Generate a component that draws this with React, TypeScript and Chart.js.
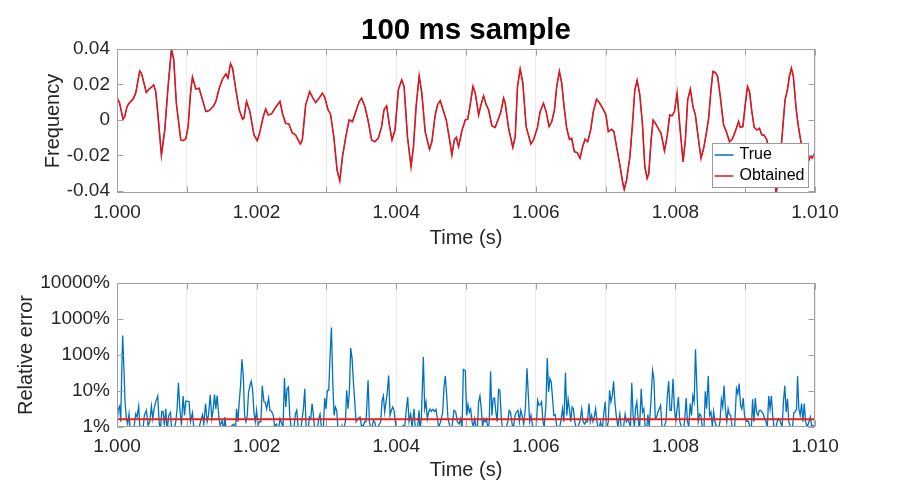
import React, { useEffect, useRef } from 'react';
import Chart from 'chart.js/auto';

const FONT = "'Liberation Sans', Arial, Helvetica, sans-serif";
const TEXT = '#262626';
const AXIS = '#a0a0a0';
const GRID = '#ebebeb';
const BLUE = '#0072BD';
const RED = '#E0161C';

// x axis: milliseconds after t = 1.000 s
const xTickMs = [0, 1, 2, 3, 4, 5, 6, 7, 8, 9, 10];
const freqTicks = [-0.04, -0.02, 0, 0.02, 0.04];
const freqLimits = [-0.0412, 0.04];
const errTicks = [1, 10, 100, 1000, 10000];

// top plot (True and Obtained overlap)
const freqTimeMs = [
  0, 0.038, 0.086, 0.11, 0.144, 0.18, 0.23, 0.268, 0.325, 0.35, 0.42, 0.46, 0.507, 0.526, 0.555, 0.589,
  0.636, 0.684, 0.732, 0.78, 0.813, 0.85, 0.914, 0.947, 0.986, 1.019, 1.053, 1.081, 1.129, 1.177, 1.225,
  1.273, 1.32, 1.378, 1.416, 1.464, 1.512, 1.56, 1.589, 1.627, 1.656, 1.703, 1.751, 1.799, 1.818, 1.856,
  1.904, 1.962, 2.01, 2.048, 2.096, 2.13, 2.167, 2.215, 2.263, 2.335, 2.375, 2.415, 2.463, 2.51, 2.559,
  2.626, 2.655, 2.703, 2.76, 2.808, 2.847, 2.904, 2.942, 2.976, 3.024, 3.058, 3.106, 3.153, 3.192, 3.23,
  3.278, 3.326, 3.374, 3.422, 3.47, 3.504, 3.552, 3.6, 3.647, 3.695, 3.743, 3.791, 3.825, 3.863, 3.902,
  3.94, 3.983, 4.031, 4.079, 4.113, 4.161, 4.213, 4.247, 4.285, 4.329, 4.367, 4.415, 4.477, 4.511, 4.559,
  4.592, 4.631, 4.669, 4.717, 4.765, 4.798, 4.832, 4.861, 4.894, 4.942, 4.99, 5.024, 5.052, 5.1, 5.133,
  5.181, 5.214, 5.252, 5.29, 5.324, 5.371, 5.419, 5.467, 5.5, 5.538, 5.562, 5.61, 5.671, 5.705, 5.738,
  5.776, 5.814, 5.862, 5.929, 5.967, 6.024, 6.062, 6.11, 6.148, 6.19, 6.229, 6.267, 6.3, 6.338, 6.371,
  6.405, 6.443, 6.481, 6.514, 6.552, 6.595, 6.633, 6.671, 6.705, 6.743, 6.786, 6.824, 6.871, 6.91, 6.957,
  7.005, 7.038, 7.086, 7.119, 7.157, 7.205, 7.243, 7.267, 7.3, 7.348, 7.386, 7.419, 7.452, 7.49, 7.527,
  7.562, 7.595, 7.619, 7.652, 7.681, 7.714, 7.762, 7.795, 7.843, 7.881, 7.919, 7.952, 7.986, 8.024, 8.062,
  8.11, 8.143, 8.176, 8.214, 8.252, 8.286, 8.319, 8.367, 8.405, 8.443, 8.476, 8.51, 8.538, 8.571, 8.605,
  8.643, 8.69, 8.729, 8.776, 8.814, 8.857, 8.905, 8.929, 8.967, 9.0, 9.033, 9.062, 9.095, 9.129, 9.167,
  9.205, 9.238, 9.271, 9.31, 9.357, 9.405, 9.443, 9.476, 9.524, 9.571, 9.605, 9.633, 9.662, 9.69, 9.729,
  9.762, 9.81, 9.86, 9.9, 9.935, 9.96, 10.0,
];
const freqValues = [
  0.0128, 0.0094, 0.0004, 0.0019, 0.0075, 0.0098, 0.0117, 0.0151, 0.0276, 0.0264, 0.0155, 0.0174, 0.0189, 0.0198, 0.016, 0.0019,
  -0.0198, -0.0057, 0.0189, 0.04, 0.034, 0.0094, -0.0113, -0.0117, -0.0106, -0.0038, 0.0151, 0.0242, 0.0174, 0.0179, 0.0113,
  0.0047, 0.0053, 0.0075, 0.0104, 0.0179, 0.023, 0.026, 0.0236, 0.0317, 0.0292, 0.017, 0.0057, 0.0004, 0.0009, 0.0104,
  0.0047, -0.0085, -0.0117, -0.0066, 0.0019, 0.0062, 0.0028, 0.0034, 0.0066, 0.0104, 0.003, -0.0019, -0.0023, -0.0072, -0.0085,
  -0.0136, -0.0113, 0.0085, 0.016, 0.0123, 0.0098, 0.0128, 0.0151, 0.0128, 0.0057, 0.0034, -0.0094, -0.0283, -0.0343, -0.0208,
  -0.0094, 0, -0.0009, 0.0047, 0.0104, 0.0123, 0.0075, -0.0009, -0.0113, -0.0123, -0.0104, -0.0038, 0.0057, 0.0079, -0.0028,
  -0.0113, -0.0057, 0.017, 0.0226, 0.0189, -0.0094, -0.0264, -0.0151, 0.0075, 0.0249, 0.0151, -0.0066, -0.0166, -0.0123, 0.0028,
  0.0085, 0.0109, 0.006, 0, -0.0113, -0.0198, -0.0113, -0.0098, -0.0151, -0.006, 0, 0.0004, 0.0065, 0.0189, 0.0151,
  0.0028, 0.0085, 0.0136, 0.0085, 0.0057, -0.0034, -0.0042, 0.0009, 0.0047, 0.0123, 0.0094, -0.0047, -0.0155, -0.0094, 0.0189,
  0.0287, 0.0208, -0.0038, -0.0136, -0.0113, -0.0042, 0.0047, 0.0094, 0.0047, -0.0038, -0.0009, 0.0057, 0.0189, 0.0274, 0.0208,
  0.0075, -0.0047, -0.0109, -0.0104, -0.0179, -0.0185, -0.0217, -0.0151, -0.0109, -0.0123, -0.0057, 0.0047, 0.0117, 0.0098, 0.0066,
  0.0028, -0.0066, -0.0053, -0.0066, -0.0151, -0.0255, -0.0349, -0.0392, -0.034, -0.0208, -0.0019, 0.017, 0.0223, 0.0142, -0.002,
  -0.0264, -0.033, -0.0302, -0.0113, 0, -0.0019, -0.0053, -0.0075, -0.0174, -0.0094, 0.0028, 0.0023, 0.0047, 0.0151, -0.0028,
  -0.0236, -0.0113, 0.0113, 0.0174, 0.0075, 0.0028, -0.0075, -0.0217, -0.016, -0.0075, 0.0009, 0.017, 0.0274, 0.0268, 0.0245,
  0.0132, -0.0028, -0.0066, -0.0123, -0.0109, -0.0066, -0.0009, -0.0042, -0.0038, 0.0085, 0.0189, 0.016, 0.0047, -0.0042, -0.0057,
  -0.0047, -0.0085, -0.0085, -0.0113, -0.0189, -0.0274, -0.0412, -0.034, -0.0113, 0.0113, 0.017, 0.0245, 0.0292, 0.0245, 0.0066,
  -0.0038, -0.015, -0.022, -0.024, -0.0205, -0.0215, -0.0185,
];

// bottom plot: relative error (%)
const errTimeMs = [
  0, 0.019, 0.038, 0.053, 0.067, 0.081, 0.096, 0.115, 0.134, 0.153, 0.172, 0.191, 0.22, 0.249, 0.268, 0.287, 0.311, 0.33, 0.364,
  0.392, 0.421, 0.445, 0.469, 0.493, 0.512, 0.531, 0.555, 0.584, 0.603, 0.622, 0.641, 0.66, 0.679, 0.699, 0.718, 0.742, 0.766,
  0.785, 0.813, 0.842, 0.861, 0.88, 0.9, 0.923, 0.947, 0.967, 0.986, 1.005, 1.033, 1.053, 1.081, 1.1, 1.129, 1.167, 1.196, 1.225,
  1.244, 1.268, 1.292, 1.311, 1.335, 1.359, 1.378, 1.397, 1.416, 1.435, 1.459, 1.478, 1.507, 1.531, 1.545, 1.569, 1.617, 1.646,
  1.675, 1.694, 1.713, 1.732, 1.751, 1.77, 1.79, 1.809, 1.828, 1.847, 1.866, 1.885, 1.904, 1.923, 1.943, 1.962, 1.981, 2.0, 2.019,
  2.038, 2.062, 2.081, 2.105, 2.124, 2.144, 2.172, 2.191, 2.215, 2.239, 2.258, 2.287, 2.311, 2.335, 2.379, 2.399, 2.418, 2.437,
  2.456, 2.475, 2.499, 2.527, 2.556, 2.575, 2.594, 2.623, 2.652, 2.671, 2.69, 2.709, 2.737, 2.757, 2.776, 2.795, 2.814, 2.833,
  2.862, 2.89, 2.909, 2.928, 2.957, 2.976, 2.995, 3.014, 3.033, 3.053, 3.072, 3.091, 3.11, 3.129, 3.148, 3.167, 3.196, 3.224,
  3.243, 3.272, 3.291, 3.31, 3.329, 3.348, 3.368, 3.387, 3.406, 3.425, 3.453, 3.482, 3.501, 3.53, 3.549, 3.568, 3.597, 3.616,
  3.644, 3.673, 3.692, 3.721, 3.749, 3.778, 3.797, 3.816, 3.835, 3.854, 3.873, 3.892, 3.912, 3.931, 3.95, 3.969, 3.997, 4.026,
  4.064, 4.098, 4.122, 4.146, 4.165, 4.184, 4.208, 4.227, 4.256, 4.275, 4.303, 4.327, 4.341, 4.36, 4.389, 4.408, 4.427, 4.446,
  4.465, 4.484, 4.504, 4.527, 4.551, 4.57, 4.589, 4.609, 4.637, 4.666, 4.685, 4.704, 4.723, 4.742, 4.771, 4.8, 4.828, 4.853,
  4.876, 4.9, 4.924, 4.943, 4.962, 4.99, 5.01, 5.029, 5.048, 5.067, 5.086, 5.105, 5.124, 5.143, 5.162, 5.181, 5.2, 5.219, 5.238,
  5.257, 5.276, 5.295, 5.314, 5.333, 5.352, 5.371, 5.39, 5.409, 5.428, 5.447, 5.466, 5.485, 5.504, 5.523, 5.551, 5.58, 5.599,
  5.618, 5.637, 5.656, 5.675, 5.703, 5.722, 5.746, 5.765, 5.784, 5.803, 5.827, 5.85, 5.874, 5.893, 5.912, 5.931, 5.95, 5.979,
  6.007, 6.026, 6.045, 6.064, 6.083, 6.102, 6.121, 6.145, 6.164, 6.183, 6.202, 6.221, 6.24, 6.259, 6.278, 6.302, 6.33, 6.359,
  6.383, 6.402, 6.425, 6.444, 6.463, 6.482, 6.501, 6.52, 6.539, 6.558, 6.577, 6.606, 6.634, 6.658, 6.677, 6.701, 6.72, 6.739,
  6.762, 6.781, 6.8, 6.819, 6.838, 6.857, 6.876, 6.9, 6.928, 6.952, 6.976, 6.995, 7.014, 7.038, 7.057, 7.076, 7.095, 7.114,
  7.133, 7.152, 7.176, 7.204, 7.223, 7.252, 7.28, 7.299, 7.323, 7.356, 7.375, 7.394, 7.413, 7.428, 7.447, 7.466, 7.486, 7.51,
  7.529, 7.548, 7.567, 7.587, 7.606, 7.625, 7.649, 7.673, 7.692, 7.712, 7.731, 7.75, 7.769, 7.788, 7.808, 7.837, 7.865, 7.885,
  7.904, 7.923, 7.942, 7.966, 7.986, 8.005, 8.024, 8.043, 8.063, 8.087, 8.115, 8.135, 8.154, 8.173, 8.192, 8.212, 8.231, 8.25,
  8.269, 8.288, 8.308, 8.327, 8.346, 8.365, 8.385, 8.409, 8.428, 8.447, 8.471, 8.49, 8.51, 8.529, 8.548, 8.567, 8.591, 8.615,
  8.639, 8.659, 8.678, 8.697, 8.716, 8.736, 8.755, 8.774, 8.793, 8.813, 8.846, 8.875, 8.894, 8.913, 8.933, 8.952, 8.971, 8.99,
  9.01, 9.029, 9.048, 9.067, 9.087, 9.106, 9.125, 9.144, 9.163, 9.183, 9.202, 9.221, 9.24, 9.26, 9.279, 9.298, 9.317, 9.337,
  9.356, 9.375, 9.394, 9.413, 9.433, 9.457, 9.481, 9.505, 9.529, 9.548, 9.567, 9.587, 9.606, 9.625, 9.649, 9.673, 9.697, 9.716,
  9.736, 9.75, 9.769, 9.788, 9.808, 9.827, 9.846, 9.865, 9.889, 9.913, 9.933, 9.952, 9.971, 9.99,
];
const errPercent = [
  1.4, 3.2, 3.8, 1.4, 27, 350, 63, 5, 1.7, 1.2, 2.3, 0.8, 0.6, 1.2, 2.3, 1.9, 3.8, 0.8, 0.6,
  2.1, 2.9, 1.1, 1.4, 3.8, 1.7, 3.2, 5, 7.3, 1.4, 0.8, 2.7, 2.7, 1.1, 3.2, 0.8, 2.1, 2.6,
  0.8, 0.7, 1.4, 3.2, 17, 3.2, 1.1, 7.3, 2.1, 5.2, 5.2, 5, 1.4, 2.5, 1.0, 0.6, 0.8, 1.4, 2.2,
  1.2, 4.5, 1.4, 2.1, 7.9, 1.7, 3.2, 7.9, 3.2, 7.5, 1.9, 1.1, 1.5, 0.8, 1.9, 0.7, 0.6, 1.1,
  1.2, 0.6, 3.2, 1.4, 5, 14, 76, 27, 2.1, 1.4, 2.1, 9.4, 14, 18.6, 10.4, 2.6, 1.4, 2.9, 1.1,
  1.4, 1.4, 14, 5, 4.8, 3.2, 6.4, 2.9, 2.7, 2.1, 1.1, 1.2, 0.7, 1.7, 1.0, 23, 3.6, 11.6,
  12.9, 2.1, 0.8, 0.7, 2.3, 2.9, 1.0, 0.6, 1.7, 3.2, 11.6, 1.0, 0.8, 1.9, 1.7, 4.5, 2.1, 0.8,
  0.6, 1.7, 2.3, 1.0, 1.0, 6.4, 3.2, 10.4, 10.4, 98, 580, 18, 2.1, 3.6, 2.9, 0.8, 0.6, 1.1,
  0.8, 1.4, 10.4, 3.2, 9.4, 156, 79, 18, 5, 1.4, 1.7, 1.9, 1.1, 1.1, 1.4, 1.4, 19.8, 1.4,
  0.8, 1.5, 1.4, 0.8, 1.1, 1.4, 5.2, 7.3, 2.6, 5, 9.4, 27, 2.1, 2.9, 3.6, 2.9, 1.0, 0.8,
  0.7, 1.1, 1.0, 3.2, 6.8, 1.4, 2.3, 1.0, 3.2, 0.8, 0.8, 2.9, 0.8, 1.7, 88, 3.2, 5, 1.7,
  2.6, 3.1, 2.7, 3.1, 2.7, 3.1, 1.7, 1.0, 1.4, 2.6, 12.9, 26, 7.6, 1.7, 1.0, 1.0, 2.9, 2.6,
  1.4, 1.2, 1.7, 0.8, 40, 37, 2.1, 4.2, 2.6, 3.2, 1.4, 1.0, 1.7, 1.0, 0.8, 5, 7.3, 3.2, 1.0,
  1.7, 1.4, 1.7, 0.8, 1.4, 35, 2.1, 6.1, 6.4, 2.6, 1.4, 11, 10.4, 2.1, 0.8, 0.8, 1.0, 1.4,
  2.9, 2.6, 1.4, 0.8, 2.1, 2.6, 2.9, 1.4, 2.9, 2.1, 1.2, 3.2, 43, 7.6, 1.4, 2.1, 1.2, 0.8,
  1.0, 5.5, 4.0, 4.2, 5, 1.4, 1.0, 4.0, 82, 9.4, 22, 18, 6.1, 2.1, 2.2, 1.0, 0.8, 1.4,
  3.2, 1.4, 32, 2.1, 5.9, 3.2, 1.4, 3.6, 3.2, 1.4, 1.0, 1.0, 1.5, 3.2, 1.4, 1.2, 1.5, 1.4,
  4.5, 1.4, 2.1, 1.4, 1.9, 3.2, 1.4, 0.8, 1.4, 0.8, 2.6, 5, 0.8, 1.4, 10.4, 5, 7.3, 18.6,
  5, 2.1, 1.0, 2.3, 1.0, 0.8, 2.3, 1.4, 1.7, 1.0, 17, 2.1, 1.0, 3.2, 5, 1.7, 0.8, 11.6,
  2.6, 3.2, 1.0, 0.8, 2.2, 1.0, 5, 37, 22, 1.7, 1.9, 2.6, 3.2, 4.0, 1.0, 1.0, 1.4, 7.6,
  18.6, 2.9, 2.9, 22, 3.2, 1.4, 3.2, 6.8, 1.4, 1.0, 0.8, 1.7, 6.4, 1.4, 1.0, 4.5, 2.1, 7.3,
  5, 144, 11.6, 1.4, 2.3, 2.1, 1.0, 0.8, 9.8, 3.2, 26, 2.1, 2.6, 1.0, 2.7, 1.4, 1.0, 0.8,
  1.4, 5.9, 3.6, 14, 3.2, 1.4, 3.2, 2.2, 2.1, 1.0, 0.8, 11.6, 8.4, 16, 4.0, 3.2, 6.4, 2.1,
  1.4, 1.5, 1.4, 1.0, 0.8, 5.9, 1.4, 6.4, 2.6, 2.1, 2.9, 2.9, 2.6, 2.3, 1.7, 1.4, 1.0, 7.3,
  3.2, 7.3, 2.1, 1.0, 0.8, 1.4, 1.7, 1.4, 1.0, 5, 14, 2.6, 6.1, 1.4, 1.0, 0.8, 2.5, 2.6,
  3.2, 26, 3.2, 2.1, 4.5, 1.4, 4.5, 1.4, 1.0, 1.4, 1.9, 1.1, 1.1, 1.0,
];

// red reference line
const meanErrTimeMs = [0, 10];
const meanErrPercent = [1.63, 1.63];

const toSeconds = (ms: number) => 1 + ms / 1000;
const toPoints = (xs: number[], ys: number[]) => xs.map((x, i) => ({ x: toSeconds(x), y: ys[i] }));

// box with inward tick marks, like a MATLAB axes
const matlabAxes = {
  id: 'matlabAxes',
  afterDatasetsDraw(chart: any) {
    const { ctx, chartArea: a, scales } = chart;
    const L = Math.round(a.left) + 0.5;
    const R = Math.round(a.right) - 0.5;
    const T = Math.round(a.top) + 0.5;
    const B = Math.round(a.bottom) - 0.5;
    ctx.save();
    ctx.strokeStyle = AXIS;
    ctx.lineWidth = 1;
    ctx.beginPath();
    scales.x.ticks.forEach((t: any) => {
      const p = Math.round(scales.x.getPixelForValue(t.value)) + 0.5;
      ctx.moveTo(p, B); ctx.lineTo(p, B - 6);
      ctx.moveTo(p, T); ctx.lineTo(p, T + 6);
    });
    scales.y.ticks.forEach((t: any) => {
      const p = Math.round(scales.y.getPixelForValue(t.value)) + 0.5;
      ctx.moveTo(L, p); ctx.lineTo(L + 6, p);
      ctx.moveTo(R, p); ctx.lineTo(R - 6, p);
    });
    ctx.stroke();
    ctx.strokeRect(L, T, R - L, B - T);
    ctx.restore();
  },
};

// legend box in the lower right corner of the axes
const insideLegend = {
  id: 'insideLegend',
  afterDraw(chart: any) {
    const { ctx, chartArea: a } = chart;
    const items = chart.data.datasets.map((d: any) => ({ label: d.label, color: d.borderColor }));
    ctx.save();
    ctx.font = `16px ${FONT}`;
    const textW = Math.max(...items.map((i: any) => ctx.measureText(i.label).width));
    const rowH = 21;
    const w = Math.round(27 + textW + 4);
    const h = items.length * rowH + 2;
    const x = Math.round(a.right - 7 - w) + 0.5;
    const y = Math.round(a.bottom - 6 - h) + 0.5;
    ctx.fillStyle = '#fff';
    ctx.fillRect(x, y, w, h);
    ctx.strokeStyle = '#9a9a9a';
    ctx.lineWidth = 1;
    ctx.strokeRect(x, y, w, h);
    items.forEach((it: any, i: number) => {
      const cy = y + 11.5 + i * rowH;
      ctx.strokeStyle = it.color;
      ctx.lineWidth = 1.5;
      ctx.beginPath();
      ctx.moveTo(x + 2, cy);
      ctx.lineTo(x + 21, cy);
      ctx.stroke();
      ctx.fillStyle = '#000';
      ctx.textBaseline = 'middle';
      ctx.textAlign = 'left';
      ctx.fillText(it.label, x + 27, cy);
    });
    ctx.restore();
  },
};

const tickFont = { family: FONT, size: 19 };
const labelFont = { family: FONT, size: 20 };

function xScale(height: number, tickPad: number, titlePad: number) {
  return {
    type: 'linear' as const,
    min: toSeconds(xTickMs[0]),
    max: toSeconds(xTickMs[xTickMs.length - 1]),
    afterBuildTicks: (s: any) => { s.ticks = xTickMs.map((ms) => ({ value: toSeconds(ms) })); },
    afterFit: (s: any) => { s.height = height; },
    ticks: {
      autoSkip: false, maxRotation: 0, minRotation: 0, padding: tickPad, color: TEXT, font: tickFont,
      callback: (v: any, i: number) => (i % 2 === 0 ? Number(v).toFixed(3) : ''),
    },
    grid: { color: GRID, lineWidth: 1, drawTicks: false },
    border: { display: false },
    title: { display: true, text: 'Time (s)', color: TEXT, font: labelFont, padding: { top: 0, bottom: titlePad } },
  };
}

function FrequencyChart() {
  const ref = useRef<HTMLCanvasElement>(null);
  const inst = useRef<Chart | null>(null);
  useEffect(() => {
    if (!ref.current) return;
    if (inst.current) inst.current.destroy();
    const points = toPoints(freqTimeMs, freqValues);
    inst.current = new Chart(ref.current, {
      type: 'line',
      data: {
        datasets: [
          { label: 'True', data: points, order: 2, borderColor: BLUE, borderWidth: 1, pointRadius: 0, tension: 0 },
          { label: 'Obtained', data: points, order: 1, borderColor: RED, borderWidth: 1.6, pointRadius: 0, tension: 0 },
        ],
      },
      options: {
        animation: false,
        responsive: false,
        events: [],
        layout: { padding: { left: 0, right: 85, top: 0, bottom: 0 } },
        plugins: {
          legend: { display: false },
          tooltip: { enabled: false },
          title: {
            display: true, text: '100 ms sample', color: '#000', fullSize: false,
            font: { family: FONT, size: 29.5, weight: 'bold' }, padding: { top: 13, bottom: 0.6 },
          },
        },
        scales: {
          x: xScale(67, 8, 10),
          y: {
            type: 'linear',
            min: freqLimits[0],
            max: freqLimits[1],
            afterBuildTicks: (s: any) => { s.ticks = freqTicks.map((v) => ({ value: v })); },
            afterFit: (s: any) => { s.width = 117; },
            ticks: { padding: 7, color: TEXT, font: tickFont, callback: (v: any) => (Number(v) === 0 ? '0' : Number(v).toFixed(2)) },
            grid: { display: false, drawTicks: false },
            border: { display: false },
            title: { display: true, text: 'Frequency', color: TEXT, font: labelFont, padding: { top: 41, bottom: 0 } },
          },
        },
      } as any,
      plugins: [matlabAxes, insideLegend],
    });
    return () => { inst.current?.destroy(); inst.current = null; };
  }, []);
  return <canvas ref={ref} width={900} height={260} style={{ position: 'absolute', left: 0, top: 0 }} />;
}

function ErrorChart() {
  const ref = useRef<HTMLCanvasElement>(null);
  const inst = useRef<Chart | null>(null);
  useEffect(() => {
    if (!ref.current) return;
    if (inst.current) inst.current.destroy();
    inst.current = new Chart(ref.current, {
      type: 'line',
      data: {
        datasets: [
          { label: 'Relative error', data: toPoints(errTimeMs, errPercent), order: 2, borderColor: BLUE, borderWidth: 1.3, pointRadius: 0, tension: 0 },
          { label: 'Mean', data: toPoints(meanErrTimeMs, meanErrPercent), order: 1, borderColor: '#EE1C1C', borderWidth: 2, pointRadius: 0, tension: 0 },
        ],
      },
      options: {
        animation: false,
        responsive: false,
        events: [],
        layout: { padding: { left: 0, right: 85, top: 23, bottom: 0 } },
        plugins: { legend: { display: false }, tooltip: { enabled: false } },
        scales: {
          x: xScale(73, 8, 18),
          y: {
            type: 'logarithmic',
            min: errTicks[0],
            max: errTicks[errTicks.length - 1],
            afterBuildTicks: (s: any) => { s.ticks = errTicks.map((v) => ({ value: v })); },
            afterFit: (s: any) => { s.width = 117; },
            ticks: { padding: 7, color: TEXT, font: tickFont, callback: (v: any) => `${Number(v)}%` },
            grid: { display: false, drawTicks: false },
            border: { display: false },
            title: { display: true, text: 'Relative error', color: TEXT, font: labelFont, padding: { top: 14, bottom: 0 } },
          },
        },
      } as any,
      plugins: [matlabAxes],
    });
    return () => { inst.current?.destroy(); inst.current = null; };
  }, []);
  return <canvas ref={ref} width={900} height={240} style={{ position: 'absolute', left: 0, top: 260 }} />;
}

export default function App() {
  return (
    <div style={{ position: 'absolute', left: 0, top: 0, width: 900, height: 500, background: '#fff', overflow: 'hidden' }}>
      <FrequencyChart />
      <ErrorChart />
    </div>
  );
}
